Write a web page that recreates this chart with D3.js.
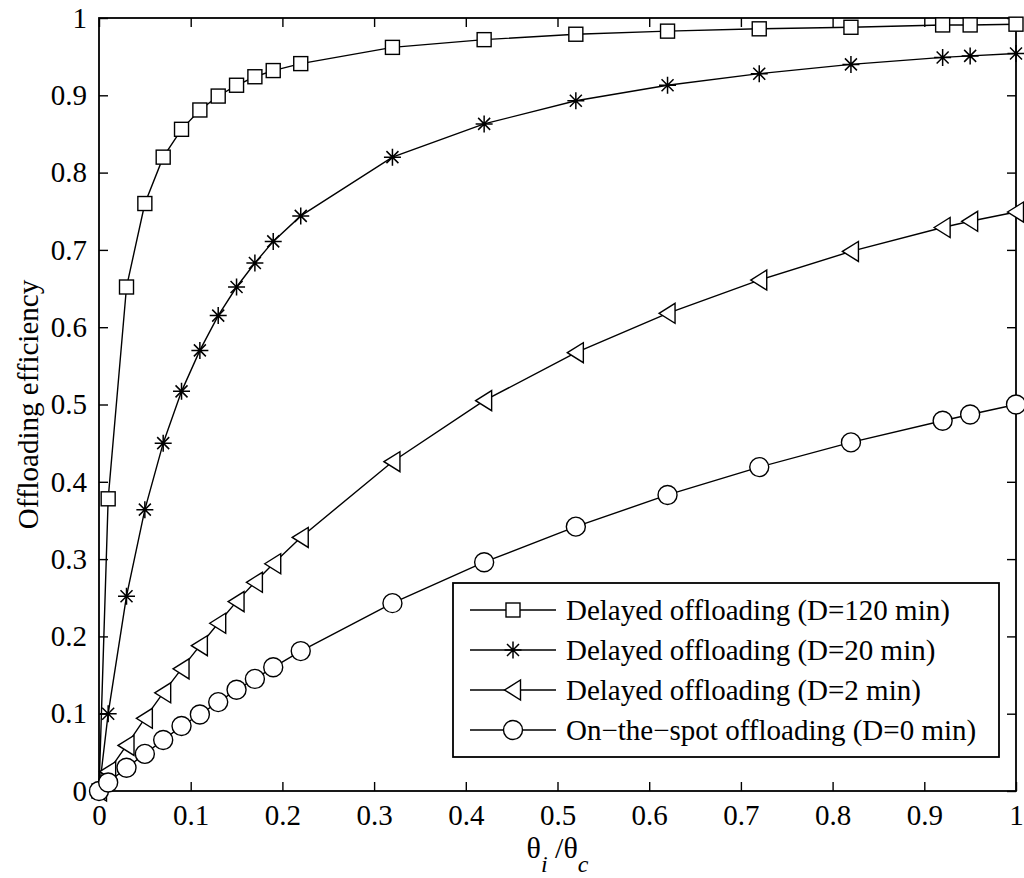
<!DOCTYPE html>
<html><head><meta charset="utf-8">
<script src="https://cdn.jsdelivr.net/npm/d3@7"></script>
<style>body{margin:0;background:#fff}svg{display:block}</style>
</head><body>
<svg id="c" width="1024" height="878"></svg>
<script>
const xValues = [0, 0.01, 0.03, 0.05, 0.07, 0.09, 0.11, 0.13, 0.15, 0.17, 0.19, 0.22, 0.32, 0.42, 0.52, 0.62, 0.72, 0.82, 0.92, 0.95, 1.0];
const delayed120 = [0, 0.378, 0.652, 0.760, 0.820, 0.856, 0.881, 0.899, 0.913, 0.924, 0.932, 0.941, 0.962, 0.972, 0.979, 0.983, 0.986, 0.988, 0.991, 0.991, 0.992];
const delayed20 = [0, 0.100, 0.252, 0.364, 0.450, 0.517, 0.570, 0.615, 0.652, 0.683, 0.711, 0.744, 0.820, 0.863, 0.893, 0.913, 0.928, 0.940, 0.949, 0.951, 0.954];
const delayed2 = [0, 0.025, 0.059, 0.094, 0.127, 0.158, 0.188, 0.217, 0.245, 0.270, 0.294, 0.328, 0.426, 0.505, 0.567, 0.618, 0.661, 0.698, 0.729, 0.737, 0.749];
const onTheSpot = [0, 0.011, 0.030, 0.048, 0.066, 0.084, 0.099, 0.115, 0.131, 0.145, 0.160, 0.181, 0.243, 0.296, 0.342, 0.383, 0.419, 0.451, 0.479, 0.487, 0.500];
const seriesNames = ["Delayed offloading (D=120 min)", "Delayed offloading (D=20 min)", "Delayed offloading (D=2 min)", "On\u2212the\u2212spot offloading (D=0 min)"];
const seriesMarkers = ["square", "star", "triangleLeft", "circle"];
const xTicks = [0, 0.1, 0.2, 0.3, 0.4, 0.5, 0.6, 0.7, 0.8, 0.9, 1];
const yTicks = [0, 0.1, 0.2, 0.3, 0.4, 0.5, 0.6, 0.7, 0.8, 0.9, 1];
const xTickLabels = ["0", "0.1", "0.2", "0.3", "0.4", "0.5", "0.6", "0.7", "0.8", "0.9", "1"];
const yTickLabels = ["0", "0.1", "0.2", "0.3", "0.4", "0.5", "0.6", "0.7", "0.8", "0.9", "1"];

const seriesValues = [delayed120, delayed20, delayed2, onTheSpot];
const FONT = "'Liberation Serif','Times New Roman',Times,serif";
const svg = d3.select("#c");
const L = 99, R = 1016, T = 18, B = 791;
const x = d3.scaleLinear().domain([0, 1]).range([L, R]);
const y = d3.scaleLinear().domain([0, 1]).range([B, T]);

function drawMarker(g, type, cx, cy) {
  if (type === "square") {
    g.append("rect").attr("x", cx - 7).attr("y", cy - 7).attr("width", 14).attr("height", 14)
      .attr("fill", "#fff").attr("stroke", "#000").attr("stroke-width", 1.4);
  } else if (type === "circle") {
    g.append("circle").attr("cx", cx).attr("cy", cy).attr("r", 9.5)
      .attr("fill", "#fff").attr("stroke", "#000").attr("stroke-width", 1.4);
  } else if (type === "triangleLeft") {
    g.append("path").attr("d", `M${cx - 8.5},${cy} L${cx + 7.5},${cy - 10} L${cx + 7.5},${cy + 10} Z`)
      .attr("fill", "#fff").attr("stroke", "#000").attr("stroke-width", 1.4);
  } else if (type === "star") {
    const r = 8.5, d = 6;
    g.append("path").attr("d", `M${cx - r},${cy} L${cx + r},${cy} M${cx},${cy - r} L${cx},${cy + r} M${cx - d},${cy - d} L${cx + d},${cy + d} M${cx - d},${cy + d} L${cx + d},${cy - d}`)
      .attr("fill", "none").attr("stroke", "#000").attr("stroke-width", 1.5);
  }
}

// axes frame
const axG = svg.append("g");
axG.append("rect").attr("x", L).attr("y", T).attr("width", R - L).attr("height", B - T)
  .attr("fill", "#fff").attr("stroke", "#000").attr("stroke-width", 1.8);

// ticks using d3 axes
const bottomAxis = d3.axisBottom(x).tickValues(xTicks).tickFormat((d, i) => xTickLabels[i]).tickSizeInner(-9).tickSizeOuter(0).tickPadding(13);
const topAxis = d3.axisTop(x).tickValues(xTicks).tickFormat("").tickSizeInner(-9).tickSizeOuter(0);
const leftAxis = d3.axisLeft(y).tickValues(yTicks).tickFormat((d, i) => yTickLabels[i]).tickSizeInner(-9).tickSizeOuter(0).tickPadding(12);
const rightAxis = d3.axisRight(y).tickValues(yTicks).tickFormat("").tickSizeInner(-9).tickSizeOuter(0);

function styleAxis(g) {
  g.select(".domain").remove();
  g.selectAll(".tick line").attr("stroke", "#000").attr("stroke-width", 1.4);
  g.selectAll(".tick text").attr("fill", "#000").style("font-family", FONT).style("font-size", "29px");
}
svg.append("g").attr("transform", `translate(0,${B})`).call(bottomAxis).call(styleAxis)
  .selectAll(".tick text").attr("dy", "0.71em");
svg.append("g").attr("transform", `translate(0,${T})`).call(topAxis).call(styleAxis);
svg.append("g").attr("transform", `translate(${L},0)`).call(leftAxis).call(styleAxis);
svg.append("g").attr("transform", `translate(${R},0)`).call(rightAxis).call(styleAxis);

// series
const line = d3.line().x(d => x(d[0])).y(d => y(d[1]));
seriesValues.forEach((vals, si) => {
  const pts = xValues.map((xv, i) => [xv, vals[i]]);
  const g = svg.append("g");
  g.append("path").attr("d", line(pts)).attr("fill", "none").attr("stroke", "#000").attr("stroke-width", 1.4);
  pts.forEach(p => drawMarker(g, seriesMarkers[si], x(p[0]), y(p[1])));
});

// legend
const lg = svg.append("g");
lg.append("rect").attr("x", 453).attr("y", 583).attr("width", 546).attr("height", 174)
  .attr("fill", "#fff").attr("stroke", "#000").attr("stroke-width", 1.8);
seriesNames.forEach((name, i) => {
  const yy = 610 + i * 40;
  lg.append("line").attr("x1", 470).attr("x2", 556).attr("y1", yy).attr("y2", yy).attr("stroke", "#000").attr("stroke-width", 1.4);
  drawMarker(lg, seriesMarkers[i], 513, yy);
  lg.append("text").attr("x", 566).attr("y", yy).attr("dy", "0.35em")
    .style("font-family", FONT).style("font-size", "29px").text(name);
});

// y label
svg.append("text").attr("transform", `translate(38,${(T + B) / 2}) rotate(-90)`)
  .attr("text-anchor", "middle").style("font-family", FONT).style("font-size", "29px").text("Offloading efficiency");

// x label
const xl = svg.append("text").attr("x", (L + R) / 2).attr("y", 858).attr("text-anchor", "middle")
  .style("font-family", FONT).style("font-size", "30px");
xl.append("tspan").text("\u03b8");
xl.append("tspan").attr("dy", 14).style("font-style", "italic").style("font-size", "24px").text("i");
xl.append("tspan").attr("dy", -14).text(" /\u03b8");
xl.append("tspan").attr("dy", 14).style("font-style", "italic").style("font-size", "24px").text("c");
</script>
</body></html>
